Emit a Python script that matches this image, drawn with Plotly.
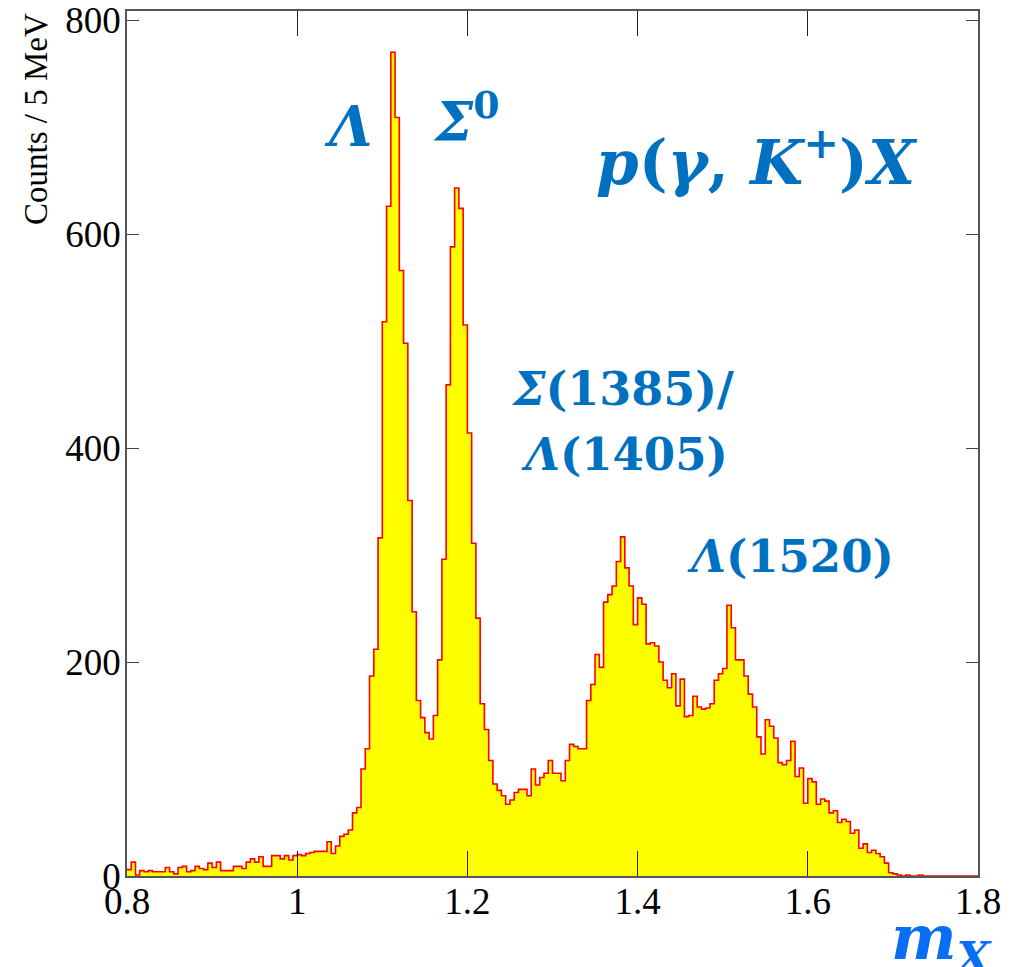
import numpy as np
import plotly.graph_objects as go

# Missing-mass spectrum p(gamma, K+)X, 5 MeV bins from 0.8 to 1.8 GeV
BIN_LO = 0.8
BIN_WIDTH = 0.005

counts = [
    6, 13, 1, 5, 4, 5, 4, 4, 4, 8,
    4, 2, 8, 9, 4, 5, 9, 7, 6, 12,
    8, 13, 5, 5, 5, 9, 9, 7, 13, 16,
    13, 18, 9, 9, 19, 19, 16, 19, 15, 19,
    20, 19, 21, 22, 23, 23, 23, 32, 21, 28,
    37, 39, 43, 59, 64, 100, 119, 187, 212, 316,
    518, 626, 770, 709, 566, 498, 351, 247, 164, 148,
    134, 128, 150, 202, 296, 459, 588, 643, 624, 515,
    414, 311, 241, 161, 137, 108, 86, 80, 75, 67,
    71, 78, 81, 81, 75, 100, 85, 92, 96, 108,
    96, 96, 89, 108, 123, 121, 119, 119, 164, 179,
    207, 195, 256, 263, 271, 294, 317, 288, 271, 235,
    260, 254, 217, 218, 215, 200, 183, 176, 189, 159,
    184, 149, 150, 168, 158, 156, 157, 161, 183, 189,
    194, 253, 232, 202, 202, 187, 170, 158, 130, 114,
    146, 140, 129, 106, 104, 108, 126, 93, 101, 68,
    91, 88, 67, 72, 70, 59, 61, 50, 53, 51,
    40, 43, 26, 30, 22, 24, 21, 18, 12, 3,
    2, 1, 0, 1, 0, 0, 1, 0, 0, 0,
    0, 0, 0, 0, 0, 0, 0, 0, 0, 0,
]

x_ticks = [0.8, 1.0, 1.2, 1.4, 1.6, 1.8]
x_tick_labels = ["0.8", "1", "1.2", "1.4", "1.6", "1.8"]
y_ticks = [0, 200, 400, 600, 800]
y_tick_labels = ["0", "200", "400", "600", "800"]

# Peak labels: (text, x, y, font size)
peak_labels = [
    ("<b><i>Λ</i></b>", 1.060, 701, 56),
    ("<b><i>Σ</i><sup>0</sup></b>", 1.199, 708, 54),
    ("<b><i>p</i>(<i>γ</i>, <i>K</i><sup>+</sup>)<i>X</i></b>", 1.540, 671, 61),
    ("<b><i>Σ</i>(1385)/</b>", 1.382, 455, 46),
    ("<b><i>Λ</i>(1405)</b>", 1.385, 394, 45),
    ("<b><i>Λ</i>(1520)</b>", 1.580, 299, 45),
]

n = len(counts)
edges = BIN_LO + BIN_WIDTH * np.arange(n + 1)
step_x = edges
step_y = list(counts) + [counts[-1]]

LABEL_BLUE = "#0070C0"
TICK_FONT = dict(family="Liberation Serif", size=37, color="black")

fig = go.Figure()
fig.add_trace(
    go.Scatter(
        x=step_x,
        y=step_y,
        mode="lines",
        line=dict(shape="hv", color="#FF0000", width=1.6),
        fill="tozeroy",
        fillcolor="#FFFF00",
        hoverinfo="skip",
        showlegend=False,
    )
)

for text, xv, yv, size in peak_labels:
    fig.add_annotation(
        x=xv, y=yv, xref="x", yref="y", text=text, showarrow=False,
        font=dict(family="DejaVu Serif", size=size, color=LABEL_BLUE),
        xanchor="center", yanchor="middle",
    )

# axis variable label below the frame, bottom right
fig.add_annotation(
    x=0.958, y=-0.076, xref="paper", yref="paper",
    text="<b><i>m</i><sub><i>X</i></sub></b>", showarrow=False,
    font=dict(family="DejaVu Serif", size=62, color="#0A6EF5"),
    xanchor="center", yanchor="middle",
)

# y-axis title, rotated and flush with the top of the frame
fig.add_annotation(
    x=-0.107, y=1.0, xref="paper", yref="paper",
    text="Counts / 5 MeV", showarrow=False, textangle=-90,
    font=dict(family="Liberation Serif", size=33, color="black"),
    xanchor="center", yanchor="top",
)

fig.update_xaxes(
    range=[0.8, 1.8],
    tickvals=x_ticks, ticktext=x_tick_labels,
    ticks="inside", ticklen=25, tickwidth=1.2, tickcolor="#222",
    showline=True, linecolor="#555", linewidth=1.5, mirror="allticks",
    showgrid=False, zeroline=False, automargin=False,
    tickfont=TICK_FONT, ticklabelstandoff=-8,
)
fig.update_yaxes(
    range=[0, 808.5],
    tickvals=y_ticks, ticktext=y_tick_labels,
    ticks="inside", ticklen=12, tickwidth=1.2, tickcolor="#444",
    showline=True, linecolor="#555", linewidth=1.5, mirror="allticks",
    showgrid=False, zeroline=False, automargin=False,
    tickfont=TICK_FONT, ticklabelstandoff=-3,
)

fig.update_layout(
    width=1025, height=967,
    margin=dict(l=127, r=47, t=11, b=91),
    paper_bgcolor="white", plot_bgcolor="white",
    showlegend=False,
)

fig.write_html("out.html")
